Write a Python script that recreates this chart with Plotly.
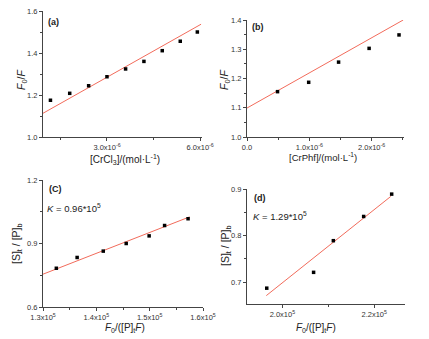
import plotly.graph_objects as go

W, H = 429, 339

# ---- data ----
a_x = [1.18e-6, 1.80e-6, 2.41e-6, 3.00e-6, 3.60e-6, 4.19e-6, 4.78e-6, 5.36e-6, 5.91e-6]
a_y = [1.175, 1.208, 1.244, 1.287, 1.324, 1.360, 1.411, 1.456, 1.500]
a_fit_x = [0.94e-6, 6.03e-6]
a_fit_y = [1.113, 1.537]

b_x = [0.49e-6, 0.99e-6, 1.47e-6, 1.96e-6, 2.44e-6]
b_y = [1.155, 1.187, 1.256, 1.303, 1.349]
b_fit_x = [0.0, 2.507e-6]
b_fit_y = [1.099, 1.400]

c_x = [1.325e5, 1.364e5, 1.413e5, 1.456e5, 1.499e5, 1.528e5, 1.572e5]
c_y = [0.783, 0.834, 0.864, 0.900, 0.936, 0.985, 1.017]
c_fit_x = [1.30e5, 1.575e5]
c_fit_y = [0.755, 1.026]

d_x = [1.966e5, 2.068e5, 2.111e5, 2.177e5, 2.238e5]
d_y = [0.687, 0.721, 0.789, 0.841, 0.889]
d_fit_x = [1.965e5, 2.236e5]
d_fit_y = [0.671, 0.884]

a_xticks = [3.0e-6, 6.0e-6]
a_xticktext = ["3.0x10<sup>-6</sup>", "6.0x10<sup>-6</sup>"]
a_yticks = [1.0, 1.2, 1.4, 1.6]
b_xticks = [0.0, 1.0e-6, 2.0e-6]
b_xticktext = ["0.0", "1.0x10<sup>-6</sup>", "2.0x10<sup>-6</sup>"]
b_yticks = [1.0, 1.1, 1.2, 1.3, 1.4]
c_xticks = [1.3e5, 1.4e5, 1.5e5, 1.6e5]
c_xticktext = ["1.3x10<sup>5</sup>", "1.4x10<sup>5</sup>", "1.5x10<sup>5</sup>", "1.6x10<sup>5</sup>"]
c_yticks = [0.6, 0.9, 1.2]
d_xticks = [2.0e5, 2.2e5]
d_xticktext = ["2.0x10<sup>5</sup>", "2.2x10<sup>5</sup>"]
d_yticks = [0.7, 0.8, 0.9]

# ---- layout helpers ----
def dom_x(l, r):
    return [l / W, r / W]

def dom_y(t, b):
    return [1 - b / H, 1 - t / H]

FONT = "Liberation Sans, Arial, sans-serif"
AXC = "#444444"
RED = "#f26b5b"

fig = go.Figure()

panels = [
    ("", a_x, a_y, a_fit_x, a_fit_y, (43, 202), (11, 137), [0.94e-6, 6.06e-6], [1.0, 1.6],
     a_xticks, a_xticktext, [1.5e-6, 4.5e-6], a_yticks, [1.1, 1.3, 1.5], ["1.0", "1.2", "1.4", "1.6"]),
    ("2", b_x, b_y, b_fit_x, b_fit_y, (247, 404), (20, 137), [0.0, 2.52e-6], [1.0, 1.4],
     b_xticks, b_xticktext, [0.5e-6, 1.5e-6, 2.5e-6], b_yticks, [1.05, 1.15, 1.25, 1.35], ["1.0", "1.1", "1.2", "1.3", "1.4"]),
    ("3", c_x, c_y, c_fit_x, c_fit_y, (43, 203), (180, 307), [1.3e5, 1.6e5], [0.6, 1.2],
     c_xticks, c_xticktext, [1.35e5, 1.45e5, 1.55e5], c_yticks, [0.75, 1.05], ["0.6", "0.9", "1.2"]),
    ("4", d_x, d_y, d_fit_x, d_fit_y, (247, 405), (189, 304), [1.923e5, 2.267e5], [0.653, 0.9],
     d_xticks, d_xticktext, [2.1e5], d_yticks, [0.75, 0.85], ["0.7", "0.8", "0.9"]),
]

for (n, xs, ys, fx, fy, xd, yd, xr, yr, xt, xtt, xm, yt, ym, ytt) in panels:
    xa = "x" + n
    ya = "y" + n
    fig.add_trace(go.Scatter(x=fx, y=fy, mode="lines", line=dict(color=RED, width=1),
                             xaxis=xa, yaxis=ya, showlegend=False, hoverinfo="skip"))
    fig.add_trace(go.Scatter(x=xs, y=ys, mode="markers",
                             marker=dict(symbol="square", size=3.5, color="black"),
                             xaxis=xa, yaxis=ya, showlegend=False))
    common = dict(showgrid=False, zeroline=False, showline=True, linecolor=AXC, linewidth=1,
                  ticks="outside", ticklen=3, tickcolor=AXC, mirror=False, automargin=False,
                  tickfont=dict(family=FONT, size=7.5, color="#333333"))
    fig.update_layout(**{
        ("xaxis" + n): dict(domain=dom_x(*xd), range=xr, anchor=ya, tickmode="array",
                             tickvals=xt, ticktext=xtt,
                             minor=dict(tickmode="array", tickvals=xm, ticks="outside", ticklen=2, tickcolor=AXC),
                             **common),
        ("yaxis" + n): dict(domain=dom_y(*yd), range=yr, anchor=xa, tickmode="array",
                             tickvals=yt, ticktext=ytt,
                             minor=dict(tickmode="array", tickvals=ym, ticks="outside", ticklen=2, tickcolor=AXC),
                             **common),
    })

def ann(text, x, y, size=10, bold=False, rot=0, xanchor="center", yanchor="middle"):
    if bold:
        text = "<b>" + text + "</b>"
    fig.add_annotation(text=text, x=x / W, y=1 - y / H, xref="paper", yref="paper",
                       showarrow=False, textangle=rot, xanchor=xanchor, yanchor=yanchor,
                       font=dict(family=FONT, size=size, color="#222222"))

# axis titles
ann("<i>F</i><sub>0</sub>/<i>F</i>", 22, 80, size=10.5, rot=-90)
ann("[CrCl<sub>3</sub>]/(mol·L<sup>-1</sup>)", 125, 159, size=10)
ann("<i>F</i><sub>0</sub>/<i>F</i>", 225, 80, size=10.5, rot=-90)
ann("[CrPhf]/(mol·L<sup>-1</sup>)", 323, 157, size=9.5)
ann("[S]<sub>t</sub> / [P]<sub>b</sub>", 17, 244, size=10.5, rot=-90)
ann("<i>F</i><sub>0</sub>/([P]<sub>t</sub><i>F</i>)", 125, 328, size=10)
ann("[S]<sub>t</sub> / [P]<sub>b</sub>", 226, 246, size=10.5, rot=-90)
ann("<i>F</i><sub>0</sub>/([P]<sub>t</sub><i>F</i>)", 316, 328, size=10)

# panel labels
ann("(a)", 46, 22, size=9, bold=True, xanchor="left")
ann("(b)", 250, 27, size=9, bold=True, xanchor="left")
ann("(C)", 47, 189, size=9, bold=True, xanchor="left")
ann("(d)", 252, 198, size=9, bold=True, xanchor="left")
ann("<i>K</i> = 0.96*10<sup>5</sup>", 45, 208, size=9.5, xanchor="left")
ann("<i>K</i> = 1.29*10<sup>5</sup>", 251, 216, size=9.5, xanchor="left")

fig.update_layout(width=W, height=H, margin=dict(l=0, r=0, t=0, b=0),
                  plot_bgcolor="white", paper_bgcolor="white")

fig.write_html("out.html", config={"displayModeBar": False},
               post_script="document.body.style.margin='0';document.body.style.overflow='hidden';")
